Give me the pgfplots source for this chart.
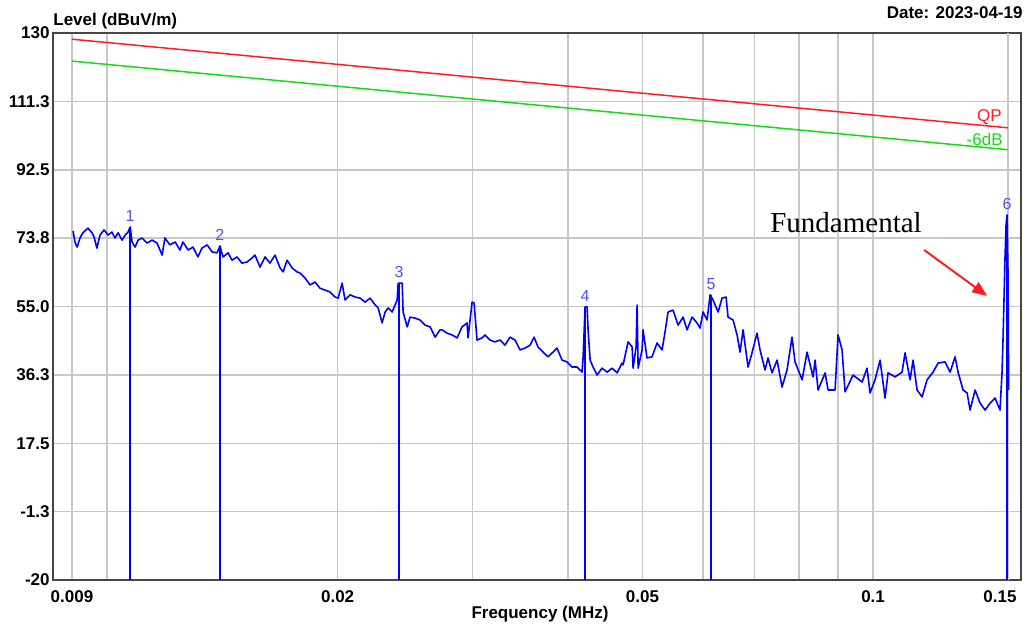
\documentclass[border=0pt]{standalone}
\usepackage{fontspec}
\setmainfont{Liberation Sans}
\newfontfamily\timesfont{Liberation Serif}
\usepackage{pgfplots}
\pgfplotsset{compat=1.18}
\usetikzlibrary{arrows.meta}
\definecolor{gridgray}{RGB}{200,200,200}
\definecolor{framegray}{RGB}{70,70,70}
\definecolor{qpred}{RGB}{255,30,30}
\definecolor{limgreen}{RGB}{20,220,20}
\definecolor{tracebl}{RGB}{0,0,255}
\definecolor{mklabel}{RGB}{80,80,255}

% measured trace (MHz, dBuV/m)
\pgfplotstableread{
f v
0.00903 75.7
0.00908 72.7
0.00914 71.3
0.00922 73.8
0.00930 75.2
0.00944 76.5
0.00956 75.2
0.00962 74.0
0.00970 71.0
0.00979 74.6
0.00991 76.0
0.01003 74.6
0.01015 75.4
0.01024 73.8
0.01034 75.2
0.01046 73.2
0.01056 74.6
0.01065 75.4
0.01072 76.8
0.01078 72.7
0.01088 71.3
0.01098 73.2
0.01111 73.8
0.01128 72.4
0.01145 73.2
0.01162 72.4
0.01180 69.1
0.01190 73.8
0.01208 71.9
0.01227 72.7
0.01245 70.5
0.01256 72.7
0.01276 70.5
0.01295 71.3
0.01314 68.6
0.01330 71.0
0.01351 71.9
0.01371 70.0
0.01392 69.7
0.01404 71.6
0.01417 68.6
0.01439 69.7
0.01456 67.7
0.01478 68.6
0.01500 66.9
0.01523 67.2
0.01546 68.3
0.01560 69.1
0.01584 65.8
0.01608 68.6
0.01632 66.9
0.01657 69.1
0.01682 65.6
0.01698 64.5
0.01718 67.7
0.01744 65.6
0.01770 64.5
0.01786 64.2
0.01814 62.8
0.01841 60.9
0.01869 61.7
0.01897 60.0
0.01926 59.5
0.01955 59.0
0.01985 57.6
0.02003 57.3
0.02027 61.4
0.02045 56.8
0.02076 58.2
0.02108 57.6
0.02140 57.3
0.02172 56.2
0.02205 57.3
0.02239 55.4
0.02259 54.6
0.02286 50.5
0.02307 53.5
0.02328 54.6
0.02356 53.5
0.02392 56.8
0.02399 61.4
0.02428 61.4
0.02435 53.5
0.02465 49.4
0.02486 52.1
0.02524 51.8
0.02562 51.3
0.02601 49.9
0.02641 49.4
0.02681 46.6
0.02721 48.6
0.02738 48.6
0.02779 47.7
0.02821 47.2
0.02864 46.4
0.02907 49.4
0.02951 50.5
0.02960 46.4
0.02996 56.2
0.03014 56.0
0.03041 45.8
0.03088 46.4
0.03115 47.2
0.03162 45.8
0.03210 45.3
0.03259 45.8
0.03308 44.4
0.03358 46.6
0.03409 45.8
0.03461 43.1
0.03513 43.6
0.03567 44.4
0.03610 46.6
0.03653 43.9
0.03709 42.5
0.03765 41.2
0.03822 42.5
0.03868 43.6
0.03927 40.3
0.03986 39.8
0.04046 38.4
0.04108 38.4
0.04170 37.0
0.04183 41.2
0.04208 54.9
0.04233 54.9
0.04246 48.6
0.04272 40.3
0.04310 38.4
0.04362 36.2
0.04428 38.1
0.04496 37.0
0.04564 38.1
0.04633 36.8
0.04703 39.5
0.04717 39.0
0.04789 45.3
0.04847 43.9
0.04861 38.1
0.04905 43.9
0.04920 55.4
0.04935 38.1
0.04994 43.1
0.05009 48.6
0.05069 40.9
0.05146 41.2
0.05224 45.0
0.05303 43.1
0.05351 48.0
0.05400 53.5
0.05482 54.0
0.05565 49.9
0.05649 52.1
0.05717 48.6
0.05804 52.1
0.05892 50.5
0.05945 49.1
0.05999 53.5
0.06072 51.3
0.06127 58.2
0.06182 56.8
0.06276 53.5
0.06352 57.3
0.06429 57.6
0.06467 52.1
0.06565 51.3
0.06645 47.2
0.06705 42.5
0.06766 48.6
0.06868 38.4
0.06951 42.3
0.07056 47.7
0.07120 43.1
0.07228 37.6
0.07293 40.9
0.07382 36.8
0.07494 40.3
0.07607 32.9
0.07722 37.6
0.07839 46.6
0.07910 39.8
0.08079 34.9
0.08201 42.5
0.08350 35.7
0.08401 40.3
0.08477 32.1
0.08657 36.8
0.08736 32.1
0.08921 32.1
0.09001 47.2
0.09110 43.1
0.09193 31.6
0.09416 36.2
0.09675 34.3
0.09821 38.1
0.09910 31.3
0.10060 34.9
0.10213 40.3
0.10367 29.9
0.10461 36.8
0.10684 35.7
0.10911 37.0
0.11010 42.3
0.11177 34.9
0.11278 40.3
0.11414 32.1
0.11587 30.2
0.11763 34.9
0.11977 37.0
0.12159 39.5
0.12417 39.8
0.12605 37.0
0.12796 41.2
0.12912 37.0
0.13107 32.1
0.13266 31.3
0.13386 26.6
0.13589 32.1
0.13795 28.5
0.14004 26.6
0.14216 28.5
0.14430 29.9
0.14648 26.6
0.14736 37.0
0.14781 46.4
0.14870 68.6
0.14915 77.3
0.14960 80.1
0.15005 63.6
0.15030 32.1
}\trace

\begin{document}
\begin{tikzpicture}
\path[use as bounding box] (-26.5pt,-24.5pt) rectangle (489pt,290pt);
\begin{axis}[
  at={(0,0)}, anchor=south west,
  scale only axis, width=484pt, height=273.5pt,
  clip mode=individual,
  xmode=log, xmin=0.0085, xmax=0.156, ymin=-20, ymax=130,
  xtick={0.009,0.02,0.05,0.1},
  xticklabels={0.009,0.02,0.05,0.1},
  minor xtick={0.01,0.03,0.04,0.06,0.07,0.08,0.09},
  extra x ticks={0.15}, extra x tick labels={0.15},
  extra x tick style={grid=major, xticklabel style={xshift=-4pt}},
  ytick={-20,-1.25,17.5,36.25,55,73.75,92.5,111.25,130},
  yticklabels={-20,-1.3,17.5,36.3,55.0,73.8,92.5,111.3,130},
  grid=both,
  major grid style={draw=gridgray, line width=0.75pt},
  minor grid style={draw=gridgray, line width=0.75pt},
  major tick length=0pt, minor tick length=0pt,
  axis line style={draw=framegray, line width=1pt},
  ticklabel style={font=\bfseries\fontsize{8.5}{10}\selectfont, inner sep=0pt},
  xticklabel style={yshift=-5pt},
  yticklabel style={xshift=-1.5pt},
  xlabel={Frequency (MHz)},
  xlabel style={at={(axis description cs:0.5,0)}, anchor=center, yshift=-17.25pt, xshift=1.5pt, inner sep=0pt, font=\bfseries\fontsize{8.5}{10}\selectfont},
]
% limit lines
\addplot[qpred, line width=0.75pt] coordinates {(0.009,128.3) (0.15,104.0)};
\addplot[limgreen, line width=0.75pt] coordinates {(0.009,122.3) (0.15,98.0)};
\node[anchor=east, inner sep=0pt, text=qpred, font=\fontsize{8.5}{10}\selectfont] at (axis cs:0.1474,107) {QP};
\node[anchor=east, inner sep=0pt, text=limgreen, font=\fontsize{8.5}{10}\selectfont] at (axis cs:0.1478,100.7) {-6dB};

% trace
\addplot[tracebl, line width=0.8pt, line join=round] table[x=f, y=v] {\trace};

% marker lines
\addplot[tracebl, line width=0.7pt] coordinates {(0.01072,-20) (0.01072,76.8)};
\addplot[tracebl, line width=0.7pt] coordinates {(0.01404,-20) (0.01404,71.6)};
\addplot[tracebl, line width=0.7pt] coordinates {(0.02406,-20) (0.02406,61.4)};
\addplot[tracebl, line width=0.7pt] coordinates {(0.04208,-20) (0.04208,54.9)};
\addplot[tracebl, line width=0.7pt] coordinates {(0.06145,-20) (0.06145,58.2)};
\addplot[tracebl, line width=0.7pt] coordinates {(0.1496,-20) (0.1496,80.1)};

\tikzset{mk/.style={anchor=south, inner sep=0pt, yshift=2.5pt, text=mklabel, font=\fontsize{8}{9}\selectfont}}
\node[mk] at (axis cs:0.01072,76.8) {1};
\node[mk] at (axis cs:0.01404,71.6) {2};
\node[mk] at (axis cs:0.02406,61.4) {3};
\node[mk] at (axis cs:0.04208,54.9) {4};
\node[mk] at (axis cs:0.06145,58.2) {5};
\node[mk] at (axis cs:0.1496,80.1) {6};

% annotation
\node[anchor=base, inner sep=0pt, font=\timesfont\fontsize{14.5}{16}\selectfont] at (axis cs:0.0922,75.2) {Fundamental};
\draw[qpred, line width=1pt, -{Triangle[length=7.5pt, width=6pt]}] (axis cs:0.1166,70.5) -- (axis cs:0.1409,57.9);

% header texts
\node[anchor=west, inner sep=0pt, yshift=6pt, font=\bfseries\fontsize{8.5}{10}\selectfont] at (rel axis cs:0,1) {Level (dBuV/m)};
\node[anchor=east, inner sep=0pt, yshift=10.25pt, xshift=1pt, font=\bfseries\fontsize{8.5}{10}\selectfont] at (rel axis cs:1,1) {Date: 2023-04-19};
\end{axis}
\end{tikzpicture}
\end{document}
